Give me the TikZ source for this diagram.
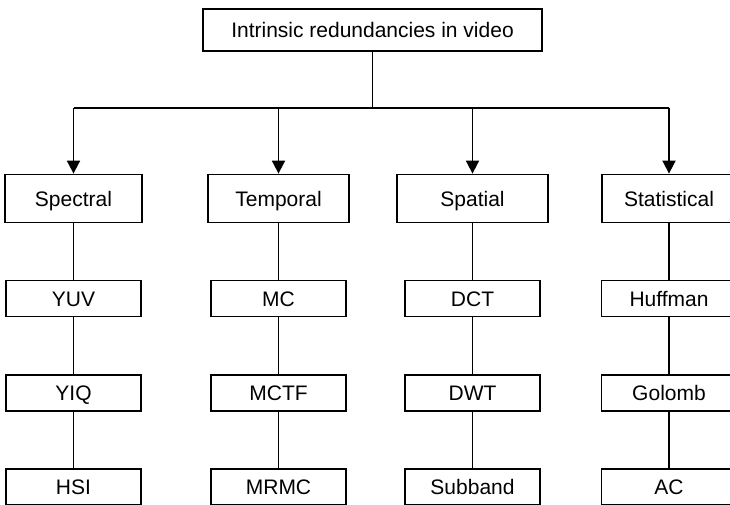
\documentclass[tikz,border=0pt]{standalone}
\usepackage{fontspec}
\setmainfont{Liberation Sans}
\usetikzlibrary{shapes,arrows.meta}
\tikzset{
	box/.style={draw,line width=1.8pt,inner sep=0pt,text height=15pt,text depth=0pt,minimum height=36pt,minimum width=135pt,font=\fontsize{21}{25}\selectfont},
	head/.style={box,minimum height=48pt},
	link/.style={line width=1.8pt},
	down/.style={line width=1.8pt,-{Triangle[width=13pt,length=13pt]}}
}
\begin{document}
\begin{tikzpicture}[x=1pt,y=-1pt]
		\useasboundingbox (0,0) rectangle (730,505);
		\clip (0,0) rectangle (730,505);
		% column centres
		\def\ca{73.5}
		\def\cb{278.5}
		\def\cc{472.5}
		\def\cd{669}
		% row centres
		\def\ra{198.5}
		\def\rb{298.5}
		\def\rc{393}
		\def\rd{487}
		\node[box,minimum width=339pt,minimum height=42pt] (top) at (372.5,30) {Intrinsic redundancies in video};
		% first level
		\node[head,minimum width=137pt] (spectral) at (\ca,\ra) {Spectral};
		\node[head,minimum width=141pt] (temporal) at (\cb,\ra) {Temporal};
		\node[head,minimum width=151pt] (spatial) at (\cc,\ra) {Spatial};
		\node[head,minimum width=134pt] (statistical) at (\cd,\ra) {Statistical};
		% techniques
		\node[box] (yuv) at (\ca,\rb) {YUV};
		\node[box] (yiq) at (\ca,\rc) {YIQ};
		\node[box] (hsi) at (\ca,\rd) {HSI};
		\node[box] (mc) at (\cb,\rb) {MC};
		\node[box] (mctf) at (\cb,\rc) {MCTF};
		\node[box] (mrmc) at (\cb,\rd) {MRMC};
		\node[box] (dct) at (\cc,\rb) {DCT};
		\node[box] (dwt) at (\cc,\rc) {DWT};
		\node[box] (subband) at (\cc,\rd) {Subband};
		\node[box] (huffman) at (\cd,\rb) {Huffman};
		\node[box] (golomb) at (\cd,\rc) {Golomb};
		\node[box] (ac) at (\cd,\rd) {AC};
		% tree
		\draw[link] (top.south) -- (372.5,108) coordinate (hub);
		\draw[link] (spectral.north |- hub) -- (statistical.north |- hub);
		\draw[down] (spectral.north |- hub) -- (spectral.north);
		\draw[down] (temporal.north |- hub) -- (temporal.north);
		\draw[down] (spatial.north |- hub) -- (spatial.north);
		\draw[down] (statistical.north |- hub) -- (statistical.north);
		\draw[link] (spectral) -- (yuv) -- (yiq) -- (hsi);
		\draw[link] (temporal) -- (mc) -- (mctf) -- (mrmc);
		\draw[link] (spatial) -- (dct) -- (dwt) -- (subband);
		\draw[link] (statistical) -- (huffman) -- (golomb) -- (ac);
\end{tikzpicture}
\end{document}
